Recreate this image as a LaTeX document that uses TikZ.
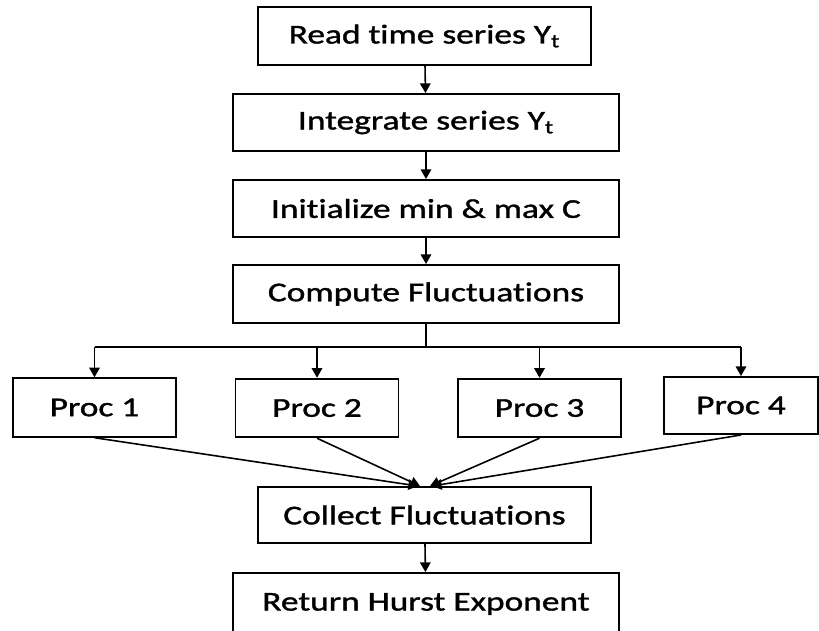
\documentclass[tikz,border=0pt]{standalone}
\usepackage{fontspec}
\setmainfont{Carlito}[FakeStretch=1.3, FakeBold=1.3, Ligatures=NoCommon]
\usetikzlibrary{arrows.meta}

\begin{document}
\begin{tikzpicture}[x=0.02cm, y=0.02cm,
    box/.style={draw=black, line width=1.1pt, inner sep=0pt, minimum height=1.14cm,
                font=\fontsize{15.5pt}{18pt}\selectfont},
    proc/.style={box, minimum width=3.26cm, minimum height=1.17cm},
    arr/.style={line width=0.9pt, -{Triangle[width=6pt,length=5.5pt]}}]
            \useasboundingbox (0,0) rectangle (819,-630);
            % main column
            \draw (424.5,-36) node [box, minimum width=6.66cm, minimum height=1.16cm] (read) {Read time series Y\textsubscript{t}};
            \draw (426,-122.5) node [box, minimum width=7.72cm] (integ) {Integrate series Y\textsubscript{t}};
            \draw (426,-208.5) node [box, minimum width=7.72cm] (init) {Initialize min \& max C};
            \draw (426,-294) node [box, minimum width=7.72cm, minimum height=1.16cm] (comp) {Compute Fluctuations};
            \draw [arr] (read) -- (integ);
            \draw [arr] (integ) -- (init);
            \draw [arr] (init) -- (comp);
            % the four workers
            \draw (94.5,-407.5) node [proc] (p1) {Proc 1};
            \draw (317,-408) node [proc] (p2) {Proc 2};
            \draw (539.5,-408) node [proc] (p3) {Proc 3};
            \draw (741,-405.5) node [proc, minimum width=3.08cm, minimum height=1.14cm] (p4) {Proc 4};
            \coordinate (bus) at (426,-347);
            \draw [line width=0.9pt] (comp.south) -- (bus);
            \draw [line width=0.9pt] (bus -| p1.north) -- (bus -| p4.north);
            \foreach \p in {p1,p2,p3,p4}
                \draw [arr] (bus -| \p.north) -- (\p.north);
            % gather
            \draw (424.5,-515) node [box, minimum width=6.66cm, minimum height=1.12cm] (coll) {Collect Fluctuations};
            \draw [arr] (p1.south) -- ([xshift=-1.3mm]coll.north);
            \draw [arr] (p2.south) -- ([xshift=-0.9mm]coll.north);
            \draw [arr] (p3.south) -- ([xshift=1.1mm]coll.north);
            \draw [arr] (p4.south) -- ([xshift=1.5mm]coll.north);
            % last box runs off the page at the bottom
            \draw (426,-604) node [box, minimum width=7.72cm, minimum height=1.24cm] (hurst) {Return Hurst Exponent};
            \draw [arr] (coll) -- (hurst);
        \end{tikzpicture}
\end{document}
